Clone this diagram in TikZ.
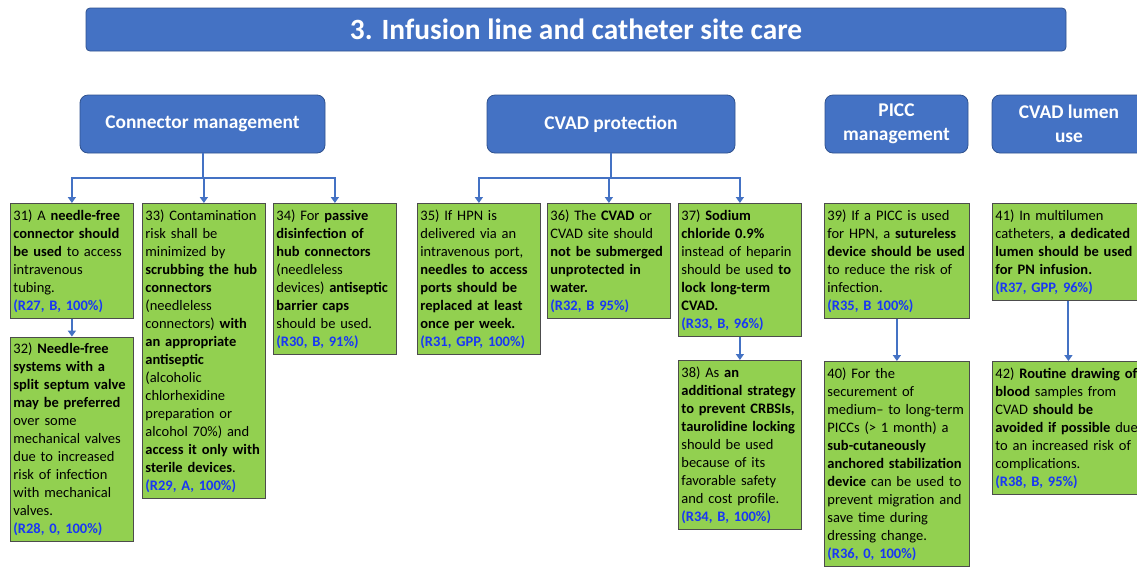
\documentclass[tikz,border=0pt]{standalone}
\usepackage{fontspec}
\setmainfont{Carlito}
\usetikzlibrary{positioning, arrows.meta}
\definecolor{hdrblue}{RGB}{68,114,196}
\definecolor{hdrline}{RGB}{47,82,143}
\definecolor{recgreen}{RGB}{146,208,80}
\definecolor{refblue}{RGB}{25,55,245}
\newcommand{\grade}[1]{{\color{refblue}\bfseries #1}}
\newcommand{\recfont}{\hyphenpenalty=10000\relax\fontsize{14.5}{18}\selectfont}

\begin{document}
\begin{tikzpicture}[x=1pt, y=-1pt]
    \tikzstyle{banner} = [rectangle, rounded corners=4pt, fill=hdrblue, draw=hdrline, line width=0.8pt, text=white, font=\bfseries\fontsize{29.4}{34}\selectfont]
    \tikzstyle{topic} = [rectangle, rounded corners=8pt, fill=hdrblue, draw=hdrline, line width=0.8pt, text=white, align=center, minimum height=58pt, font=\bfseries\fontsize{19.4}{23.7}\selectfont]
    \tikzstyle{recbox} = [rectangle, fill=recgreen, draw=black!70, line width=0.8pt, text width=117pt, inner xsep=3pt, inner ysep=6pt, align=left, font=\recfont]
    \tikzstyle{link} = [draw=hdrblue, line width=2pt, -{Triangle[width=8pt,length=6pt]}]

    \useasboundingbox [fill=white] (0,0) rectangle (1137,566);

    % Title
    \node [banner, minimum width=980pt, minimum height=43pt] (main) at (576,29.5) {3. Infusion line and catheter site care};

    % Topic headers
    \node [topic, minimum width=245pt] (conn) at (202.5,124) {Connector management};
    \node [topic, minimum width=248pt] (cvad) at (611,124) {CVAD protection};
    \node [topic, minimum width=143pt] (picc) at (896.5,124) {PICC\\management};
    \node [topic, minimum width=154pt] (lumen) at (1069,124) {CVAD lumen\\use};

    % Connector management
    \node [recbox, anchor=north west] (c31) at (10,203) {31) A \textbf{needle-free}\\ \textbf{connector should}\\ \textbf{be used} to access\\ intravenous\\ tubing.\\ \grade{(R27, B, 100\%)}};
    \node [recbox, below=18pt of c31] (c32) {32) \textbf{Needle-free}\\ \textbf{systems with a}\\ \textbf{split septum valve}\\ \textbf{may be preferred}\\ over some\\ mechanical valves\\ due to increased\\ risk of infection\\ with mechanical\\ valves.\\ \grade{(R28, 0, 100\%)}};
    \node [recbox, anchor=north west] (c33) at (142,203) {33) Contamination\\ risk shall be\\ minimized by\\ \textbf{scrubbing the hub}\\ \textbf{connectors}\\ (needleless\\ connectors) \textbf{with}\\ \textbf{an appropriate}\\ \textbf{antiseptic}\\ (alcoholic\\ chlorhexidine\\ preparation or\\ alcohol 70\%) and\\ \textbf{access it only with}\\ \textbf{sterile devices}.\\ \grade{(R29, A, 100\%)}};
    \node [recbox, anchor=north west] (c34) at (273,203) {34) For \textbf{passive}\\ \textbf{disinfection of}\\ \textbf{hub connectors}\\ (needleless\\ devices) \textbf{antiseptic}\\ \textbf{barrier caps}\\ should be used.\\ \grade{(R30, B, 91\%)}};

    % CVAD protection
    \node [recbox, anchor=north west] (c35) at (417,203) {35) If HPN is\\ delivered via an\\ intravenous port,\\ \textbf{needles to access}\\ \textbf{ports should be}\\ \textbf{replaced at least}\\ \textbf{once per week.}\\ \grade{(R31, GPP, 100\%)}};
    \node [recbox, anchor=north west] (c36) at (547,203) {36) The \textbf{CVAD} or\\ CVAD site should\\ \textbf{not be submerged}\\ \textbf{unprotected in}\\ \textbf{water.}\\ \grade{(R32, B 95\%)}};
    \node [recbox, anchor=north west] (c37) at (678,203) {37) \textbf{Sodium}\\ \textbf{chloride 0.9\%}\\ instead of heparin\\ should be used \textbf{to}\\ \textbf{lock long-term}\\ \textbf{CVAD.}\\ \grade{(R33, B, 96\%)}};
    \node [recbox, anchor=north west] (c38) at (678,360) {38) As \textbf{an}\\ \textbf{additional strategy}\\ \textbf{to prevent CRBSIs,}\\ \textbf{taurolidine locking}\\ should be used\\ because of its\\ favorable safety\\ and cost profile.\\ \grade{(R34, B, 100\%)}};

    % PICC management
    \node [recbox, text width=139pt, anchor=north west] (c39) at (824,203) {39) If a PICC is used\\ for HPN, a \textbf{sutureless}\\ \textbf{device should be used}\\ to reduce the risk of\\ infection.\\ \grade{(R35, B 100\%)}};
    \node [recbox, text width=139pt, anchor=north west] (c40) at (824,361) {40) For the\\ securement of\\ medium-- to long-term\\ PICCs (> 1 month) a\\ \textbf{sub-cutaneously}\\ \textbf{anchored stabilization}\\ \textbf{device} can be used to\\ prevent migration and\\ save time during\\ dressing change.\\ \grade{(R36, 0, 100\%)}};

    % CVAD lumen use
    \node [recbox, text width=146pt, anchor=north west] (c41) at (992,203) {41) In multilumen\\ catheters, \textbf{a dedicated}\\ \textbf{lumen should be used}\\ \textbf{for PN infusion.}\\ \grade{(R37, GPP, 96\%)}};
    \node [recbox, text width=146pt, anchor=north west] (c42) at (992,361) {42) \textbf{Routine drawing of}\\ \textbf{blood} samples from\\ CVAD \textbf{should be}\\ \textbf{avoided if possible} due\\ to an increased risk of\\ complications.\\ \grade{(R38, B, 95\%)}};

    % Connections
    \draw [link] (conn.south) -- ++(0,25) -| (c31.north);
    \draw [link] (conn.south) -- ++(0,25) -| (c33.north);
    \draw [link] (conn.south) -- ++(0,25) -| (c34.north);
    \draw [link] (cvad.south) -- ++(0,25) -| (c35.north);
    \draw [link] (cvad.south) -- ++(0,25) -| (c36.north);
    \draw [link] (cvad.south) -- ++(0,25) -| (c37.north);

    \draw [link] (c31) -- (c32);
    \draw [link] (c37) -- (c38);
    \draw [link] (c39) -- (c40);
    \draw [link] (c41) -- (c42);
\end{tikzpicture}
\end{document}
